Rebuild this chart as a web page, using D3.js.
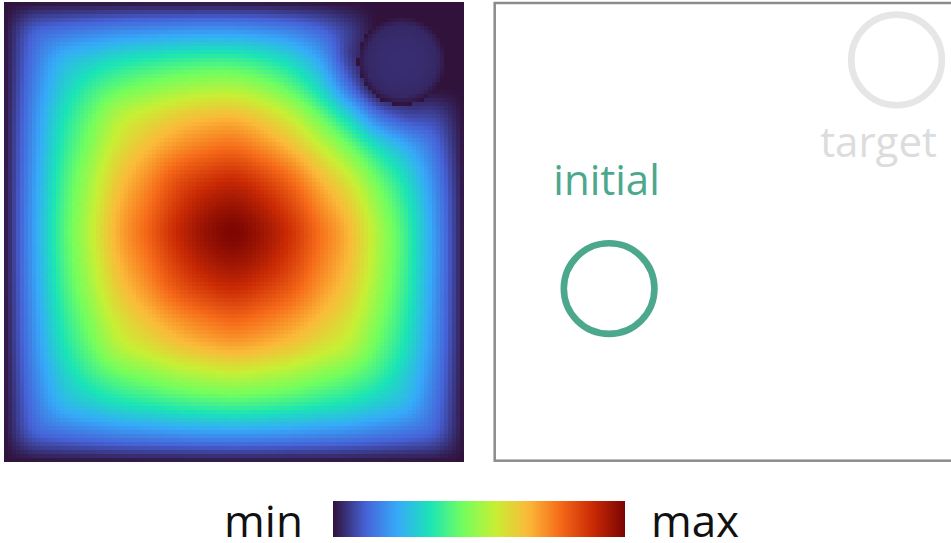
<!DOCTYPE html>
<html>
<head>
<meta charset="utf-8">
<script src="https://cdn.jsdelivr.net/npm/d3@7"></script>
<style>
  html, body { margin: 0; padding: 0; background: #ffffff; overflow: hidden; }
  svg { display: block; font-family: "Open Sans", "DejaVu Sans", sans-serif; }
</style>
</head>
<body>
<svg id="chart" width="951" height="543"></svg>
<script>
// Field level on a 17 x 17 node grid over the unit square (rows top to bottom); 0 = min, 1 = max
const fieldRows = [
  [0, 0, 0, 0, 0, 0, 0, 0, 0, 0, 0, 0, 0, 0, 0, 0, 0],
  [0, .102, .135, .154, .171, .181, .188, .193, .192, .180, .158, .119, .059, 0, 0, 0, 0],
  [0, .135, .236, .281, .320, .344, .363, .374, .372, .346, .297, .210, .064, 0, 0, 0, 0],
  [0, .154, .281, .368, .428, .466, .497, .515, .517, .481, .414, .304, .138, 0, 0, 0, 0],
  [0, .171, .320, .428, .529, .583, .629, .658, .665, .622, .549, .436, .298, .148, .084, .070, 0],
  [0, .181, .344, .466, .583, .658, .717, .754, .769, .726, .655, .554, .439, .312, .220, .125, 0],
  [0, .190, .367, .502, .635, .722, .807, .851, .873, .831, .761, .656, .552, .419, .302, .160, 0],
  [0, .197, .382, .526, .670, .765, .860, .923, .948, .907, .832, .727, .625, .483, .349, .182, 0],
  [0, .200, .390, .540, .690, .790, .890, .960, .993, .948, .874, .769, .667, .518, .374, .192, 0],
  [0, .197, .382, .526, .670, .765, .860, .926, .955, .920, .851, .754, .659, .515, .374, .193, 0],
  [0, .190, .367, .502, .635, .722, .807, .860, .885, .853, .800, .715, .629, .497, .363, .188, 0],
  [0, .181, .344, .466, .583, .658, .722, .765, .790, .765, .722, .658, .583, .466, .344, .181, 0],
  [0, .171, .320, .428, .529, .583, .635, .670, .690, .670, .635, .583, .529, .428, .320, .171, 0],
  [0, .154, .281, .368, .428, .466, .502, .526, .540, .526, .502, .466, .428, .368, .281, .154, 0],
  [0, .135, .236, .281, .320, .344, .367, .382, .390, .382, .367, .344, .320, .281, .236, .135, 0],
  [0, .102, .135, .154, .171, .181, .190, .197, .200, .197, .190, .181, .171, .154, .135, .102, 0],
  [0, 0, 0, 0, 0, 0, 0, 0, 0, 0, 0, 0, 0, 0, 0, 0, 0]
];

// Obstacle disk in the field: centre x, centre y, radius (unit square)
const obstacle = [0.865, 0.128, 0.0957];
// Level inside the obstacle, by fraction of its radius
const obstacleRadii = [0, 0.5, 0.8, 0.92, 1];
const obstacleLevels = [0.038, 0.036, 0.03, 0.014, 0];

// Configuration panel: ring positions (unit square) and their names
const ringNames = ["initial", "target"];
const ringX = [0.250, 0.878];
const ringY = [0.624, 0.1245];
const ringR = 0.099;

// Colour bar end labels
const legendLabels = ["min", "max"];

// Turbo palette stops
const turbo = ["#30123b", "#4662d7", "#36aaf9", "#1ae4b6", "#72fe5e",
               "#c8ef34", "#faba39", "#f66b19", "#ca2a04", "#7a0403"];

const svg = d3.select("#chart");

const color = d3.scaleLinear()
  .domain(turbo.map((_, i) => i / (turbo.length - 1)))
  .range(turbo)
  .interpolate(d3.interpolateRgb)
  .clamp(true);

// ---- left panel: field heat map ----
const xL = d3.scaleLinear().domain([0, 1]).range([4, 464]);
const yL = d3.scaleLinear().domain([0, 1]).range([2, 462]);

const N = fieldRows.length - 1;
function node(i, j) {
  // odd reflection across the zero boundary keeps the slope at the walls
  let s = 1;
  if (i < 0) { i = -i; s = -s; }
  if (i > N) { i = 2 * N - i; s = -s; }
  if (j < 0) { j = -j; s = -s; }
  if (j > N) { j = 2 * N - j; s = -s; }
  return s * fieldRows[j][i];
}
function cr(p0, p1, p2, p3, t) {
  return 0.5 * (2 * p1 + (-p0 + p2) * t + (2 * p0 - 5 * p1 + 4 * p2 - p3) * t * t
    + (-p0 + 3 * p1 - 3 * p2 + p3) * t * t * t);
}
function sample(gx, gy) {
  const i = Math.min(N - 1, Math.floor(gx)), j = Math.min(N - 1, Math.floor(gy));
  const tx = gx - i, ty = gy - j;
  const r = [-1, 0, 1, 2].map(d => cr(node(i - 1, j + d), node(i, j + d), node(i + 1, j + d), node(i + 2, j + d), tx));
  return cr(r[0], r[1], r[2], r[3], ty);
}
const holeLevel = d3.scaleLinear().domain(obstacleRadii).range(obstacleLevels).clamp(true);

const cells = 115;
const canvas = document.createElement("canvas");
canvas.width = cells; canvas.height = cells;
const ctx = canvas.getContext("2d");
const img = ctx.createImageData(cells, cells);
for (let r = 0; r < cells; r++) {
  for (let c = 0; c < cells; c++) {
    const u = (c + 0.5) / cells, v = (r + 0.5) / cells;
    const d = Math.hypot(u - obstacle[0], v - obstacle[1]) / obstacle[2];
    let val = d < 1 ? holeLevel(d) : sample(u * N, v * N);
    val = Math.max(0, Math.min(1, val));
    const col = d3.rgb(color(val));
    const k = (r * cells + c) * 4;
    img.data[k] = col.r; img.data[k + 1] = col.g; img.data[k + 2] = col.b; img.data[k + 3] = 255;
  }
}
ctx.putImageData(img, 0, 0);

svg.append("image")
  .attr("x", xL(0)).attr("y", yL(0))
  .attr("width", xL(1) - xL(0)).attr("height", yL(1) - yL(0))
  .attr("preserveAspectRatio", "none")
  .style("image-rendering", "pixelated")
  .attr("href", canvas.toDataURL());

// ---- right panel: configuration ----
const xR = d3.scaleLinear().domain([0, 1]).range([494.7, 952.4]);
const yR = d3.scaleLinear().domain([0, 1]).range([3, 460.7]);

svg.append("rect")
  .attr("x", xR(0)).attr("y", yR(0))
  .attr("width", xR(1) - xR(0)).attr("height", yR(1) - yR(0))
  .attr("fill", "none").attr("stroke", "#8b8b8b").attr("stroke-width", 2.5);

const ringStroke = ["#4ca88c", "#e6e6e6"];
const textFill = ["#4ca88c", "#dcdcdc"];
const labelDx = [-2.6, -18];
const labelDy = [-93.6, 97];

const rings = svg.append("g").selectAll("g").data(ringNames).join("g");
rings.append("circle")
  .attr("cx", (d, i) => xR(ringX[i]))
  .attr("cy", (d, i) => yR(ringY[i]))
  .attr("r", ringR * (xR(1) - xR(0)))
  .attr("fill", "none")
  .attr("stroke", (d, i) => ringStroke[i])
  .attr("stroke-width", 6.6);
rings.append("text")
  .attr("x", (d, i) => xR(ringX[i]) + labelDx[i])
  .attr("y", (d, i) => yR(ringY[i]) + labelDy[i])
  .attr("text-anchor", "middle")
  .attr("font-size", 42)
  .attr("fill", (d, i) => textFill[i])
  .text(d => d);

// ---- colour bar ----
const xC = d3.scaleLinear().domain([0, 1]).range([333, 625]);
const grad = svg.append("defs").append("linearGradient").attr("id", "turboGrad")
  .attr("x1", "0%").attr("x2", "100%").attr("y1", "0%").attr("y2", "0%");
grad.selectAll("stop").data(d3.range(0, 1.0001, 0.02)).join("stop")
  .attr("offset", d => (d * 100) + "%")
  .attr("stop-color", d => color(d));
svg.append("rect")
  .attr("x", xC(0)).attr("y", 501)
  .attr("width", xC(1) - xC(0)).attr("height", 36)
  .attr("fill", "url(#turboGrad)");

svg.selectAll("text.legend").data(legendLabels).join("text")
  .attr("class", "legend")
  .attr("x", (d, i) => i === 0 ? xC(0) - 69.5 : xC(1) + 70)
  .attr("y", 537)
  .attr("text-anchor", "middle")
  .attr("font-size", 44)
  .attr("fill", "#111111")
  .text(d => d);
</script>
</body>
</html>
